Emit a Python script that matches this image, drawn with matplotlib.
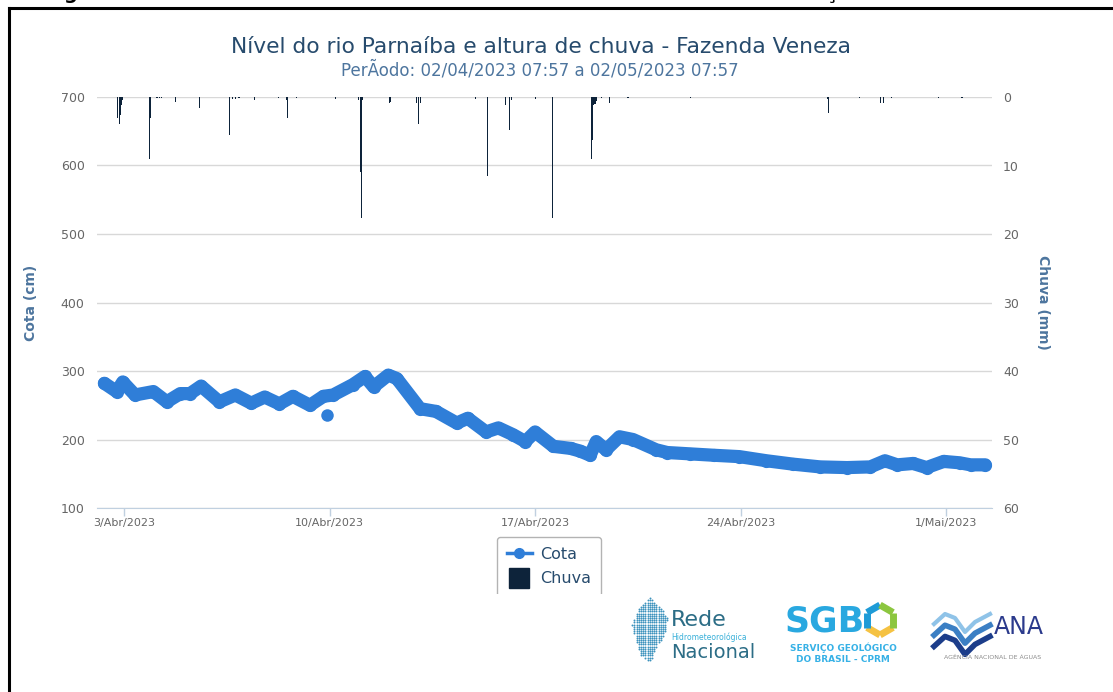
import numpy as np
import pandas as pd
import matplotlib
matplotlib.use('Agg')
import matplotlib.pyplot as plt
from matplotlib.lines import Line2D
from matplotlib.patches import Rectangle
from matplotlib.path import Path

# Cota (cm)
cota_times = ["2023-04-02 08:00", "2023-04-02 18:00", "2023-04-02 23:00", "2023-04-03 09:00",
              "2023-04-04 00:00", "2023-04-04 11:00", "2023-04-04 22:00", "2023-04-05 06:00",
              "2023-04-05 15:00", "2023-04-06 06:00", "2023-04-06 19:00", "2023-04-07 08:00",
              "2023-04-07 19:00", "2023-04-08 07:00", "2023-04-08 18:00", "2023-04-09 08:00",
              "2023-04-09 19:00", "2023-04-10 03:00", "2023-04-10 19:00", "2023-04-11 05:00",
              "2023-04-11 12:00", "2023-04-12 00:00", "2023-04-12 07:00", "2023-04-13 02:00",
              "2023-04-13 15:00", "2023-04-14 08:00", "2023-04-14 17:00", "2023-04-15 08:00",
              "2023-04-15 18:00", "2023-04-16 06:00", "2023-04-16 16:00", "2023-04-17 00:00",
              "2023-04-17 15:00", "2023-04-18 05:00", "2023-04-18 13:00", "2023-04-18 21:00",
              "2023-04-19 02:00", "2023-04-19 10:00", "2023-04-19 21:00", "2023-04-20 08:00",
              "2023-04-21 03:00", "2023-04-21 12:00", "2023-04-22 07:00", "2023-04-23 02:00",
              "2023-04-23 23:00", "2023-04-24 21:00", "2023-04-25 19:00", "2023-04-26 17:00",
              "2023-04-27 15:00", "2023-04-28 10:00", "2023-04-28 22:00", "2023-04-29 08:00",
              "2023-04-29 21:00", "2023-04-30 08:00", "2023-04-30 22:00", "2023-05-01 11:00",
              "2023-05-01 20:00", "2023-05-02 08:00"]
cota_values = [282, 270, 284, 265, 270, 255, 267, 267, 278, 255, 265, 253, 262, 252, 263, 250,
               263, 265, 280, 292, 277, 294, 289, 245, 241, 224, 231, 211, 217, 207, 197, 211,
               190, 187, 183, 177, 197, 185, 204, 200, 185, 181, 179, 177, 175, 169, 164, 160,
               159, 160, 169, 163, 165, 159, 168, 166, 163, 163]
cota_outlier_time = ["2023-04-09 22:00"]
cota_outlier_value = [236]

# Chuva (mm) - hourly totals
chuva_times = ["2023-04-02 19:00", "2023-04-02 20:00", "2023-04-02 21:00", "2023-04-02 22:00",
               "2023-04-02 23:00", "2023-04-03 21:00", "2023-04-03 22:00", "2023-04-04 03:00",
               "2023-04-04 05:00", "2023-04-04 07:00", "2023-04-04 18:00", "2023-04-05 14:00",
               "2023-04-06 14:00", "2023-04-06 17:00", "2023-04-06 19:00", "2023-04-06 22:00",
               "2023-04-07 11:00", "2023-04-08 06:00", "2023-04-08 13:00", "2023-04-08 14:00",
               "2023-04-08 21:00", "2023-04-10 05:00", "2023-04-11 00:00", "2023-04-11 01:00",
               "2023-04-11 02:00", "2023-04-11 03:00", "2023-04-12 01:00", "2023-04-12 02:00",
               "2023-04-12 23:00", "2023-04-13 01:00", "2023-04-13 02:00", "2023-04-14 23:00",
               "2023-04-15 09:00", "2023-04-16 00:00", "2023-04-16 03:00", "2023-04-16 05:00",
               "2023-04-17 00:00", "2023-04-17 14:00", "2023-04-18 22:00", "2023-04-18 23:00",
               "2023-04-19 00:00", "2023-04-19 01:00", "2023-04-19 02:00", "2023-04-19 06:00",
               "2023-04-19 13:00", "2023-04-20 04:00", "2023-04-22 07:00", "2023-04-26 23:00",
               "2023-04-27 00:00", "2023-04-28 01:00", "2023-04-28 18:00", "2023-04-28 21:00",
               "2023-04-29 03:00", "2023-04-30 18:00", "2023-05-01 13:00"]
chuva_values = [3.1, 4.0, 2.6, 1.2, 0.5, 9.0, 3.1, 0.2, 0.2, 0.2, 0.7, 1.6, 5.5, 0.3, 0.3, 0.2,
                0.4, 0.2, 0.5, 3.1, 0.2, 0.3, 0.5, 10.9, 17.7, 0.5, 0.9, 0.7, 0.9, 4.0, 0.9, 0.3,
                11.5, 1.2, 4.8, 0.4, 0.3, 17.7, 9.0, 6.3, 1.2, 1.0, 0.6, 0.2, 0.9, 0.2, 0.2, 0.3,
                2.4, 0.2, 0.9, 0.9, 0.2, 0.2, 0.2]

xtick_dates = ["2023-04-03", "2023-04-10", "2023-04-17", "2023-04-24", "2023-05-01"]
xtick_labels = ["3/Abr/2023", "10/Abr/2023", "17/Abr/2023", "24/Abr/2023", "1/Mai/2023"]

W, H = 1113, 692
def fx(px):
    return px / W
def fy(py):
    return 1 - py / H

plt.rcParams['font.family'] = ['DejaVu Sans']
fig = plt.figure(figsize=(W / 100, H / 100), dpi=100)
fig.patch.set_facecolor('white')

ax = fig.add_axes([fx(97), fy(508), fx(992) - fx(97), fy(97) - fy(508)])
ax2 = ax.twinx()

t_cota = pd.to_datetime(cota_times)
t_out = pd.to_datetime(cota_outlier_time)
t_chuva = pd.to_datetime(chuva_times)

blue = '#2f7ed8'
navy = '#0d233a'

ax.plot(t_cota, cota_values, color=blue, lw=9.5, marker='o', ms=9.5, mew=0,
        solid_capstyle='round', solid_joinstyle='round', zorder=3)
ax.plot(t_out, cota_outlier_value, color=blue, ls='none', marker='o', ms=9, mew=0, zorder=3)
ax2.bar(t_chuva, chuva_values, width=0.9 / 24, color=navy, zorder=3)

ax.set_xlim(pd.Timestamp("2023-04-02 01:56"), pd.Timestamp("2023-05-02 13:30"))
ax.set_ylim(100, 700)
ax.set_yticks(range(100, 701, 100))
ax2.set_ylim(60, 0)
ax2.set_yticks(range(0, 61, 10))

ax.set_axisbelow(True)
ax.yaxis.grid(True, color='#d8d8d8', lw=1)
for s in ['top', 'left', 'right']:
    ax.spines[s].set_visible(False)
ax.spines['bottom'].set_color('#c0d0e0')
for s in ax2.spines.values():
    s.set_visible(False)

ax.set_xticks(pd.to_datetime(xtick_dates))
ax.set_xticklabels(xtick_labels)
ax.tick_params(axis='x', length=6, width=1, color='#c0d0e0', pad=1, labelsize=8, labelcolor='#666666')
ax.tick_params(axis='y', length=0, pad=9, labelsize=9, labelcolor='#666666')
ax2.tick_params(axis='y', length=0, pad=8, labelsize=9, labelcolor='#666666')

ax.set_ylabel('Cota (cm)', color='#4d759e', fontsize=10, fontweight='bold')
ax.yaxis.set_label_coords((38 - 97) / 895, 0.5)
ax2.set_ylabel('Chuva (mm)', color='#4d759e', fontsize=10, fontweight='bold', rotation=270, va='center')
ax2.yaxis.set_label_coords((1043 - 97) / 895, 0.5)

fig.text(fx(541), fy(47), 'Nível do rio Parnaíba e altura de chuva - Fazenda Veneza',
         ha='center', va='center', fontsize=15.7, color='#274b6d')
fig.text(fx(540), fy(70), 'PerÃodo: 02/04/2023 07:57 a 02/05/2023 07:57',
         ha='center', va='center', fontsize=12, color='#4d759e')

# legend (cut off at the bottom in the screenshot)
handles = [Line2D([], [], color=blue, lw=2.5, marker='o', ms=7),
           Line2D([], [], ls='none', marker='s', ms=14, color=navy)]
leg = fig.legend(handles, ['Cota', 'Chuva'], loc='upper left', bbox_to_anchor=(fx(497), fy(537)),
                 borderaxespad=0, fontsize=11.5, labelcolor='#274b6d', frameon=True, fancybox=True,
                 edgecolor='#a0a0a0', handlelength=1.6, handletextpad=0.5, borderpad=0.6,
                 labelspacing=0.6)
leg.get_frame().set_linewidth(1)
fig.patches.append(Rectangle((fx(480), fy(620)), fx(140), fy(594) - fy(620),
                             transform=fig.transFigure, facecolor='white', edgecolor='none', zorder=20))

# frame of the document
fig.add_artist(Line2D([fx(9), 1], [fy(8), fy(8)], color='black', lw=2.2))
fig.add_artist(Line2D([fx(9), fx(9)], [fy(8), 0], color='black', lw=2.2))
fig.text(fx(63), fy(-0.5), 'g', fontsize=14, fontweight='bold', va='baseline')
fig.text(fx(825), fy(-0.5), 'ç', fontsize=14, fontweight='bold', va='baseline')

# logos
br = np.array([(650, 598), (660, 606), (668, 618), (666, 632), (658, 645), (650, 662),
               (640, 655), (636, 640), (632, 625), (638, 610)])
path = Path(br)
gx, gy = np.meshgrid(np.arange(630, 670, 2.2), np.arange(596, 664, 2.2))
pts = np.column_stack([gx.ravel(), gy.ravel()])
inside = pts[path.contains_points(pts)]
fig.add_artist(Line2D(fx(inside[:, 0]), fy(inside[:, 1]), ls='none', marker='o', ms=1.4,
                      color='#3d93bd', mec='none'))
fig.text(fx(671), fy(620), 'Rede', fontsize=16, color='#2c6d86', va='center', ha='left')
fig.text(fx(671), fy(637), 'Hidrometeorológica', fontsize=5.5, color='#39b0d9', va='center', ha='left')
fig.text(fx(671), fy(652), 'Nacional', fontsize=14, color='#2c6d86', va='center', ha='left')

fig.text(fx(825), fy(621), 'SGB', fontsize=25, fontweight='bold', color='#29a8e0', va='center', ha='center')
hx, hy = 880, 620
ang = np.deg2rad(np.arange(0, 420, 60) + 30)
vx = hx + 15 * np.cos(ang)
vy = hy + 15 * np.sin(ang)
cols = ['#f5c242', '#f5c242', '#1e9bd7', '#1e9bd7', '#8cc63f', '#8cc63f']
for i in range(6):
    fig.add_artist(Line2D(fx(vx[i:i + 2]), fy(vy[i:i + 2]), color=cols[i], lw=5, solid_capstyle='butt'))
fig.text(fx(843), fy(648), 'SERVIÇO GEOLÓGICO', fontsize=6.5, fontweight='bold', color='#36b1e6',
         va='center', ha='center')
fig.text(fx(843), fy(659), 'DO BRASIL - CPRM', fontsize=6.5, fontweight='bold', color='#36b1e6',
         va='center', ha='center')

for off, c, lw in [(0, '#8fc3e8', 3), (7, '#3b7fc4', 4), (14, '#1c3d8a', 4)]:
    wx = np.array([934, 945, 955, 965, 975, 990])
    wy = np.array([632, 622, 626, 640, 630, 622]) + off * 0.6 - 8
    fig.add_artist(Line2D(fx(wx), fy(wy + off), color=c, lw=lw, solid_joinstyle='round'))
fig.text(fx(994), fy(627), 'ANA', fontsize=17, color='#2b3a8c', va='center', ha='left')
fig.text(fx(993), fy(657), 'AGÊNCIA NACIONAL DE ÁGUAS', fontsize=4.5, color='#8a8a8a',
         va='center', ha='center')

fig.savefig('out.png', dpi=100)
